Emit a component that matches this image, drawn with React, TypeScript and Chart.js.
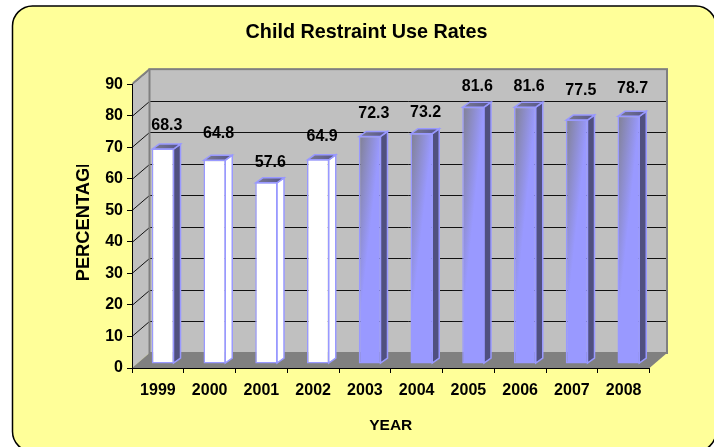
import React, { useEffect, useRef } from "react";
import { Chart, registerables } from "chart.js";

Chart.register(...registerables);

const years = ["1999", "2000", "2001", "2002", "2003", "2004", "2005", "2006", "2007", "2008"];
const useRates = [68.3, 64.8, 57.6, 64.9, 72.3, 73.2, 81.6, 81.6, 77.5, 78.7];
const labelLift = [23, 26, 20, 23, 22, 21, 20, 20, 29, 27];
const whiteBars = [true, true, true, true, false, false, false, false, false, false];
const darkSideOnWhite = [true, false, false, false];

const FONT = "'Liberation Sans', Arial, sans-serif";
const DEPTH_X = 17.5;
const DEPTH_Y = 15;
const BAR_X = 5;
const BAR_Y = 4;
const SIDE_X = 7;
const SIDE_Y = 5;
const BORDER = "#9999FF";

function poly(ctx: CanvasRenderingContext2D, pts: number[][], fill?: any, stroke?: string, lw = 1) {
  ctx.beginPath();
  pts.forEach((p, i) => (i ? ctx.lineTo(p[0], p[1]) : ctx.moveTo(p[0], p[1])));
  ctx.closePath();
  if (fill) {
    ctx.fillStyle = fill;
    ctx.fill();
  }
  if (stroke) {
    ctx.strokeStyle = stroke;
    ctx.lineWidth = lw;
    ctx.stroke();
  }
}

const scene3d = {
  id: "scene3d",
  beforeDraw(chart: any) {
    const { ctx, scales } = chart;
    const L = scales.x.left;
    const R = scales.x.right;
    const y = scales.y;
    const B = y.getPixelForValue(0);
    const T = y.getPixelForValue(90);
    ctx.save();
    ctx.fillStyle = "#ffffff";
    ctx.fillRect(0, 0, chart.width, chart.height);
    ctx.beginPath();
    ctx.roundRect(12.5, 6, 703.5, 445.5, 20);
    ctx.fillStyle = "#FFFF99";
    ctx.fill();
    ctx.strokeStyle = "#000000";
    ctx.lineWidth = 1.5;
    ctx.stroke();
    // walls
    poly(ctx, [[L, T], [L + DEPTH_X, T - DEPTH_Y], [L + DEPTH_X, B - DEPTH_Y], [L, B]], "#C0C0C0");
    ctx.fillStyle = "#C0C0C0";
    ctx.fillRect(L + DEPTH_X, T - DEPTH_Y, R - L, B - T);
    poly(ctx, [[L, B], [R, B], [R + DEPTH_X, B - DEPTH_Y], [L + DEPTH_X, B - DEPTH_Y]], "#808080");
    // gridlines
    ctx.strokeStyle = "#111111";
    ctx.lineWidth = 1;
    y.ticks.forEach((t: any) => {
      const py = Math.round(y.getPixelForValue(t.value)) + 0.5;
      if (t.value === 0) return;
      ctx.beginPath();
      ctx.moveTo(L, py);
      ctx.lineTo(L + DEPTH_X, py - DEPTH_Y);
      if (t.value !== 90) ctx.lineTo(R + DEPTH_X, py - DEPTH_Y);
      ctx.stroke();
    });
    // wall outline
    ctx.strokeStyle = "#808080";
    ctx.lineWidth = 2;
    ctx.strokeRect(L + DEPTH_X, T - DEPTH_Y, R - L, B - T);
    ctx.beginPath();
    ctx.moveTo(L + 1, T - 1);
    ctx.lineTo(L + DEPTH_X, T - DEPTH_Y);
    ctx.stroke();
    ctx.restore();
  },
  beforeDatasetsDraw(chart: any) {
    const { ctx } = chart;
    const bars = chart.getDatasetMeta(0).data;
    ctx.save();
    bars.forEach((bar: any, i: number) => {
      const r = bar.x + BAR_X + bar.width / 2 - 0.5;
      const l = bar.x + BAR_X - bar.width / 2 + 0.5;
      const t = bar.y - BAR_Y + 0.5;
      const b = bar.base - BAR_Y - 0.5;
      const white = whiteBars[i];
      const side = white && !darkSideOnWhite[i] ? "#FFFFFF" : "#50507F";
      poly(ctx, [[r, t], [r + SIDE_X, t - SIDE_Y], [r + SIDE_X, b - SIDE_Y], [r, b]], side, BORDER, 1.5);
      const grad = ctx.createLinearGradient(l, 0, r + SIDE_X, 0);
      grad.addColorStop(0, "#7A7A90");
      grad.addColorStop(1, "#55558A");
      poly(ctx, [[l, t], [l + SIDE_X, t - SIDE_Y], [r + SIDE_X, t - SIDE_Y], [r, t]], grad, BORDER, 1.5);
    });
    ctx.translate(BAR_X, -BAR_Y);
  },
  afterDatasetsDraw(chart: any) {
    const { ctx } = chart;
    ctx.restore();
    const bars = chart.getDatasetMeta(0).data;
    ctx.save();
    ctx.fillStyle = "#000000";
    ctx.font = `bold 16px ${FONT}`;
    ctx.textAlign = "center";
    ctx.textBaseline = "middle";
    bars.forEach((bar: any, i: number) => {
      ctx.fillText(useRates[i].toFixed(1), bar.x + BAR_X + 4, bar.y - BAR_Y - labelLift[i]);
    });
    ctx.restore();
  },
  afterDraw(chart: any) {
    // y-axis title: its last letter is cut off by the text box in the reference
    const { ctx } = chart;
    ctx.save();
    ctx.beginPath();
    ctx.rect(70, 165, 24, 125);
    ctx.clip();
    ctx.translate(84, 218.5);
    ctx.rotate(-Math.PI / 2);
    ctx.fillStyle = "#000000";
    ctx.font = `bold 18.3px ${FONT}`;
    ctx.textAlign = "center";
    ctx.textBaseline = "middle";
    ctx.fillText("PERCENTAGE", 0, 0);
    ctx.restore();
  },
};

export default function App() {
  const ref = useRef<HTMLCanvasElement>(null);
  useEffect(() => {
    document.body.style.margin = "0";
    const chart = new Chart(ref.current as HTMLCanvasElement, {
      type: "bar",
      plugins: [scene3d],
      data: {
        labels: years,
        datasets: [
          {
            label: "Child Restraint Use Rates",
            data: useRates,
            clip: false,
            barPercentage: 0.43,
            categoryPercentage: 1,
            borderWidth: 1.5,
            borderSkipped: false,
            borderColor: BORDER,
            backgroundColor: (c: any) => {
              if (c.type !== "data" || whiteBars[c.dataIndex]) return "#FFFFFF";
              const { x, y } = c.chart.scales;
              if (!x || !y) return BORDER;
              const w = 22;
              const x0 = x.getPixelForValue(c.dataIndex) - w / 2;
              const top = y.getPixelForValue(c.raw);
              const h = y.getPixelForValue(0) - top;
              const k = 0.85 * h;
              const len2 = w * w + k * k;
              const s = (w * k) / len2;
              const g = c.chart.ctx.createLinearGradient(x0, top, x0 + k * s, top + w * s);
              g.addColorStop(0, "#808090");
              g.addColorStop(1, BORDER);
              return g;
            },
          } as any,
        ],
      },
      options: {
        responsive: false,
        animation: false,
        layout: { padding: { left: 83.5, right: 64.5, top: 0, bottom: 0 } },
        plugins: {
          legend: { display: false },
          tooltip: { enabled: false },
          title: {
            display: true,
            text: "Child Restraint Use Rates",
            color: "#000000",
            font: { family: FONT, size: 19.8, weight: "bold" },
            padding: { top: 20.4, bottom: 40 },
          },
        },
        scales: {
          x: {
            afterFit: (s: any) => {
              s.height = 79;
            },
            grid: { drawOnChartArea: false, color: "#000000", tickColor: "#000000", tickLength: 5 },
            border: { color: "#000000", width: 1 },
            ticks: {
              color: "#000000",
              padding: 8,
              maxRotation: 0,
              autoSkip: false,
              font: { family: FONT, size: 16, weight: "bold" },
            },
            title: {
              display: true,
              text: "YEAR",
              color: "#000000",
              font: { family: FONT, size: 15.5, weight: "bold" },
              padding: { top: 0, bottom: 12 },
            },
          },
          y: {
            min: 0,
            max: 90,
            afterFit: (s: any) => {
              s.width = 48.5;
            },
            grid: { drawOnChartArea: false, color: "#000000", tickColor: "#000000", tickLength: 5 },
            border: { color: "#000000", width: 1 },
            ticks: {
              stepSize: 10,
              color: "#000000",
              padding: 4,
              font: { family: FONT, size: 16, weight: "bold" },
            },
          },
        },
      } as any,
    });
    return () => chart.destroy();
  }, []);
  return (
    <div style={{ width: 714, height: 447 }}>
      <canvas ref={ref} width={714} height={447} style={{ display: "block" }} />
    </div>
  );
}
